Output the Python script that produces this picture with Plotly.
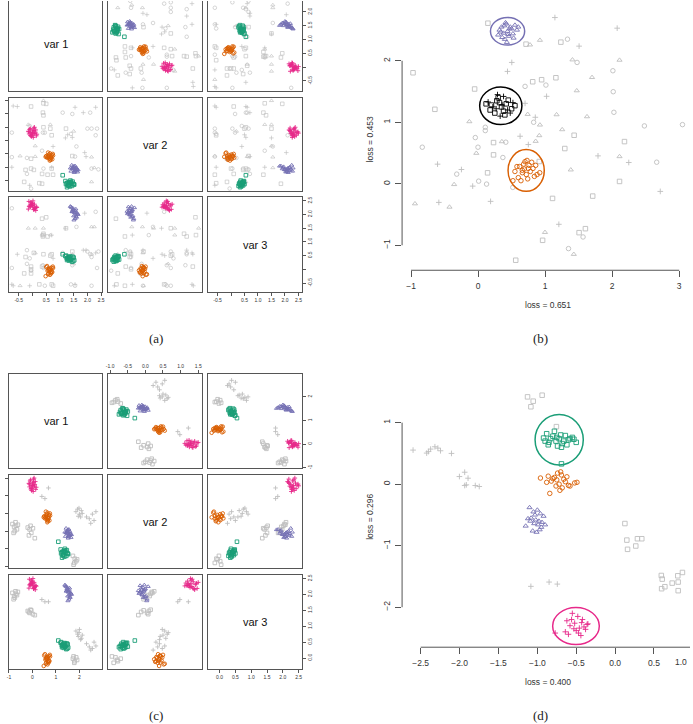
import plotly.graph_objects as go

W, H = 693, 724

# ---------------- shared coloured clusters (var 1, var 2, var 3) : panels (a) and (c)
pink_v1 = [-0.12, 0.05, -0.03, 0.10, -0.08, 0.02, 0.14, -0.15, 0.07, -0.01, 0.12, -0.06, 0.03, -0.10, 0.08, 0.00, -0.04, 0.16, -0.13, 0.05, 0.01, -0.07]
pink_v2 = [1.25, 1.38, 1.20, 1.32, 1.45, 1.28, 1.18, 1.35, 1.50, 1.22, 1.40, 1.30, 1.12, 1.42, 1.27, 1.36, 1.15, 1.24, 1.33, 1.47, 1.29, 1.19]
pink_v3 = [2.30, 2.18, 2.42, 2.25, 2.35, 2.50, 2.28, 2.20, 2.38, 2.33, 2.15, 2.45, 2.27, 2.31, 2.22, 2.40, 2.36, 2.26, 2.48, 2.19, 2.34, 2.29]

orange_v1 = [0.55, 0.68, 0.60, 0.72, 0.50, 0.64, 0.58, 0.75, 0.66, 0.53, 0.70, 0.61, 0.57, 0.69, 0.63, 0.48, 0.74, 0.59, 0.65, 0.67]
orange_v2 = [0.40, 0.35, 0.48, 0.30, 0.42, 0.52, 0.38, 0.44, 0.28, 0.36, 0.46, 0.33, 0.55, 0.41, 0.25, 0.39, 0.50, 0.43, 0.31, 0.37]
orange_v3 = [-0.05, -0.15, 0.02, -0.10, 0.08, -0.20, -0.02, 0.05, -0.12, 0.12, -0.08, 0.00, -0.18, 0.06, -0.04, -0.25, 0.10, -0.14, 0.03, -0.09]

purple_v1 = [1.45, 1.58, 1.50, 1.62, 1.40, 1.55, 1.48, 1.66, 1.52, 1.43, 1.60, 1.53, 1.47, 1.57, 1.38, 1.64, 1.51, 1.56, 1.49, 1.59, 1.54, 1.44]
purple_v2 = [-0.05, -0.12, 0.02, -0.08, -0.15, 0.05, -0.02, -0.10, -0.20, 0.08, -0.06, -0.14, 0.00, -0.09, -0.03, -0.18, 0.04, -0.11, -0.07, -0.01, -0.16, -0.04]
purple_v3 = [2.10, 2.20, 1.95, 2.05, 2.28, 1.85, 2.15, 2.00, 2.12, 2.25, 1.90, 2.08, 2.18, 1.98, 2.30, 2.03, 1.80, 2.14, 2.22, 1.93, 2.07, 2.11]

green_v1 = [1.25, 1.40, 1.32, 1.48, 1.20, 1.36, 1.28, 1.52, 1.38, 1.22, 1.44, 1.34, 1.30, 1.46, 1.26, 1.42, 1.33, 1.50, 1.29, 1.37, 1.10]
green_v2 = [-0.60, -0.55, -0.68, -0.62, -0.52, -0.72, -0.58, -0.65, -0.50, -0.63, -0.70, -0.57, -0.66, -0.54, -0.75, -0.61, -0.59, -0.64, -0.69, -0.56, -0.30]
green_v3 = [0.40, 0.35, 0.45, 0.30, 0.48, 0.38, 0.42, 0.33, 0.36, 0.50, 0.28, 0.44, 0.39, 0.46, 0.34, 0.41, 0.32, 0.43, 0.37, 0.47, 0.55]

# ---------------- panel (a) scattered grey noise
a_noise_v1 = [-0.70, -0.55, -0.05, 0.40, 0.40, 0.50, 1.10, 1.45, 1.55, 1.85, 2.10, 2.30, 0.40, 0.38, -0.75, -0.15, -0.10, 0.40, 0.65, 0.65,
              0.38, 0.45, 0.70, 1.22, 1.28, 1.40, 1.20, 1.45, 1.50, 2.00, 2.15, 2.35, 0.10, 0.35, -0.75, -0.45, -0.20, -0.05, 0.10, 0.75,
              1.45, 1.55, 1.95, 2.15, -0.75, -0.25, -0.05, 0.05, 0.40, 0.70, 0.70, 0.35, 0.55, 0.75, -0.20, 2.15, 2.25, 2.40, -0.30, -0.10,
              0.25, 0.35, -0.05, 2.15, 1.60, 1.90, 2.30]
a_noise_v2 = [2.30, 2.28, 2.28, 2.50, 2.40, 2.38, 2.05, 2.00, 2.25, 2.05, 2.05, 2.25, 1.95, 2.05, 1.30, 1.60, 1.55, 1.50, 1.60, 1.45,
              1.30, 1.30, 1.20, 1.45, 1.22, 1.25, 1.10, 1.12, 1.35, 1.45, 1.45, 1.45, 0.80, 0.62, 0.38, 0.42, 0.35, 0.32, 0.40, 0.78,
              0.42, 0.40, 0.40, 0.38, 0.00, -0.10, -0.05, -0.10, -0.05, 0.00, -0.05, -0.25, -0.28, -0.28, -0.25, -0.05, -0.02, -0.08, -0.55, -0.68,
              -0.60, -0.62, -0.80, -0.55, 0.78, 0.55, 1.20]
a_noise_v3 = [-0.60, 0.55, 0.10, 1.50, 1.25, 1.90, 0.60, 0.15, -0.55, 0.70, 0.55, 0.60, 1.30, 1.20, 2.23, 1.50, 0.40, 0.55, 1.25, 0.50,
              0.15, -0.60, -0.55, 1.50, 0.50, -0.55, 1.50, 0.55, 0.20, 0.65, -0.60, 0.05, 1.50, 1.25, 0.05, -0.60, 0.20, -0.15, 0.60, 0.40,
              0.65, -0.60, 0.70, 1.55, -0.55, 0.45, 0.00, 0.60, 0.05, 1.25, 0.55, 0.10, 1.20, -0.60, 0.70, 0.45, 1.55, 0.65, -0.15, -0.60,
              -0.55, 1.85, -0.05, 0.55, 1.55, 2.05, 2.10]
a_noise_sym = "xxstssccxx" "cxssctcsts" "ccssxcxxtc" "cctcctcstx" "scxtxssscx" "sssscctcsx" "ssctcxc"

# ---------------- panel (c) grey noise groups
c_sq_v1 = [-0.85, -0.78, -0.72, -0.66, -0.80, -0.70, -0.75, -0.62, -0.20, -0.12, -0.05, 0.02, -0.15, 0.10, -0.08, 1.72, 1.80, 1.86, 1.78, 1.90, 1.75]
c_sq_v2 = [0.20, 0.12, 0.25, 0.05, -0.05, 0.15, 0.00, 0.18, 0.10, 0.05, -0.05, 0.08, -0.12, -0.20, 0.15, -0.70, -0.78, -0.85, -0.90, -0.80, -0.95]
c_sq_v3 = [2.05, 1.95, 2.10, 1.98, 1.85, 2.02, 1.90, 2.08, 1.48, 1.42, 1.50, 1.38, 1.45, 1.35, 1.52, -0.02, -0.10, 0.02, -0.15, -0.06, 0.05]
c_cr_v1 = [0.40, 0.53, 0.68, 1.85, 1.92, 2.00, 2.08, 1.95, 2.05, 2.12, 1.98, 2.30, 2.42, 2.55, 2.62, 2.70, 2.48]
c_cr_v2 = [0.98, 0.92, 1.22, 0.55, 0.62, 0.48, 0.58, 0.42, 0.40, 0.50, 0.65, 0.40, 0.35, 0.48, 0.30, 0.55, 0.22]
c_cr_v3 = [1.84, 1.77, 1.77, 0.85, 0.75, 0.90, 0.62, 0.68, 0.58, 0.72, 0.80, 0.45, 0.35, 0.30, 0.50, 0.38, 0.25]

# ---------------- panel (b) projection
b_gray_sq_x = [0.147, 0.716, 1.235, -0.970, 0.815, 0.948, 1.161, -0.051, -0.644, 1.433, 0.231, 2.184, 1.294, 0.231, 0.913, 0.142, 2.110, 1.111, 1.710, 0.963, 1.507, 1.601, 0.562]
b_gray_sq_y = [2.611, 2.270, 2.303, 1.805, 1.659, 1.692, 1.724, 1.541, 1.211, 0.789, 0.670, 0.686, 0.573, 0.470, 0.362, 0.178, 0.038, -0.238, -0.200, -0.919, -0.795, -0.730, -1.243]
b_gray_tr_x = [0.775, 0.923, 1.408, 2.110, 1.700, 1.472, 0.740, 1.171, 1.625, -0.130, 0.923, 1.255, 0.913, 0.859, 0.355, -0.026, 2.110, 1.383, -0.357, -0.941, -0.426, 0.998, 1.428]
b_gray_tr_y = [2.259, 2.335, 2.016, 2.011, 1.730, 1.514, 1.130, 1.124, 1.092, 1.011, 0.957, 0.881, 0.784, 0.692, 0.686, 0.497, 0.443, 0.227, -0.011, -0.324, -0.378, -0.789, -1.146]
b_gray_ci_x = [1.334, 1.477, 2.011, 1.012, 0.701, 2.016, 2.026, 0.829, 0.108, 0.108, 2.481, 3.049, -0.041, 0.414, -0.832, -0.001, 0.370, 2.664, -0.318, 0.009, 0.127, 0.518, 1.566, 1.349]
b_gray_ci_y = [2.351, 1.973, 1.838, 1.605, 1.584, 1.497, 1.162, 1.000, 0.919, 0.865, 0.941, 0.962, 0.751, 0.676, 0.595, 0.595, 0.427, 0.351, 0.157, 0.043, -0.005, -0.059, -0.865, -1.054]
b_gray_cr_x = [1.146, 2.075, 1.507, 0.503, 0.439, 1.022, 0.701, 0.854, 0.627, 0.750, 1.789, 2.248, -0.604, -0.248, -0.080, 2.718, -0.585, 0.187, 1.205]
b_gray_cr_y = [2.703, 2.530, 2.238, 1.973, 1.827, 1.422, 1.308, 1.081, 0.773, 0.638, 0.454, 0.346, 0.319, 0.232, -0.038, -0.124, -0.303, -0.286, -0.659]
b_purple_x = [0.35, 0.42, 0.50, 0.38, 0.46, 0.55, 0.32, 0.44, 0.40, 0.52, 0.36, 0.48, 0.58, 0.30, 0.43, 0.47, 0.39, 0.53, 0.34, 0.45, 0.41, 0.60]
b_purple_y = [2.55, 2.60, 2.52, 2.45, 2.40, 2.58, 2.50, 2.48, 2.35, 2.44, 2.38, 2.55, 2.50, 2.42, 2.30, 2.52, 2.57, 2.37, 2.47, 2.43, 2.62, 2.55]
b_black_sq_x = [0.12, 0.20, 0.28, 0.35, 0.42, 0.50, 0.55, 0.18, 0.25, 0.32, 0.38, 0.45, 0.30, 0.40]
b_black_sq_y = [1.30, 1.28, 1.35, 1.25, 1.30, 1.22, 1.27, 1.20, 1.15, 1.32, 1.18, 1.36, 1.40, 1.12]
b_black_cr_x = [0.22, 0.48, 0.15, 0.36, 0.27, 0.44, 0.33, 0.52, 0.38, 0.29]
b_black_cr_y = [1.25, 1.15, 1.33, 1.28, 1.22, 1.20, 1.10, 1.32, 1.42, 1.45]
b_orange_x = [0.55, 0.62, 0.68, 0.75, 0.80, 0.86, 0.92, 0.60, 0.66, 0.72, 0.78, 0.84, 0.70, 0.64, 0.74, 0.58, 0.82, 0.69, 0.76, 0.52, 0.88, 0.66, 0.73]
b_orange_y = [0.20, 0.28, 0.32, 0.25, 0.35, 0.30, 0.18, 0.10, 0.22, 0.15, 0.20, 0.12, 0.36, 0.05, 0.08, 0.28, 0.25, 0.24, 0.30, 0.05, 0.15, 0.18, 0.38]

# ---------------- panel (d) projection
d_gray_sq_x = [-1.126, -1.053, -1.083, -0.938, -0.755, 0.126, 0.151, 0.160, 0.266, 0.287, 0.343,
               0.594, 0.606, 0.598, 0.640, 0.734, 0.811, 0.806, 0.866, 0.811]
d_gray_sq_y = [1.419, 1.349, 1.258, 1.446, 0.935, -0.640, -0.909, -1.059, -1.005, -0.887, -0.887,
               -1.484, -1.543, -1.699, -1.667, -1.608, -1.591, -1.489, -1.435, -1.731]
d_gray_cr_x = [-2.598, -2.423, -2.372, -2.317, -2.279, -2.245, -2.104, -2.400, -2.002, -1.934, -1.891, -1.934, -1.913, -1.798, -1.747,
               -1.083, -0.849, -0.743]
d_gray_cr_y = [0.554, 0.505, 0.570, 0.608, 0.586, 0.543, 0.500, 0.530, 0.124, 0.194, 0.097, -0.022, -0.011, -0.022, -0.038,
               -1.661, -1.591, -1.624]
d_green_x = [-0.92, -0.88, -0.85, -0.80, -0.76, -0.72, -0.68, -0.64, -0.60, -0.55, -0.50, -0.86, -0.78, -0.74, -0.70, -0.66, -0.62, -0.58, -0.83, -0.69, -0.53, -0.90, -0.75, -0.69]
d_green_y = [0.75, 0.82, 0.68, 0.78, 0.70, 0.74, 0.66, 0.79, 0.72, 0.76, 0.68, 0.64, 0.86, 0.62, 0.80, 0.70, 0.64, 0.74, 0.74, 0.60, 0.73, 0.70, 0.76, 0.33]
d_orange_x = [-0.96, -0.86, -0.82, -0.78, -0.74, -0.70, -0.66, -0.62, -0.58, -0.52, -0.49, -0.84, -0.76, -0.72, -0.68, -0.64, -0.80, -0.71, -0.75, -0.88, -0.60, -0.69]
d_orange_y = [0.10, 0.13, 0.05, 0.11, 0.18, 0.20, 0.08, 0.12, -0.03, 0.02, 0.03, -0.15, -0.03, 0.00, -0.06, 0.04, 0.09, -0.10, 0.07, 0.03, -0.02, 0.15]
d_purple_x = [-1.10, -1.05, -1.00, -0.96, -0.92, -1.08, -1.02, -0.98, -0.94, -1.15, -1.12, -1.04, -0.99, -0.95, -0.90, -1.06, -1.01, -0.97, -1.09, -1.03]
d_purple_y = [-0.38, -0.45, -0.42, -0.48, -0.52, -0.55, -0.58, -0.60, -0.62, -0.68, -0.56, -0.64, -0.66, -0.70, -0.66, -0.76, -0.78, -0.74, -0.60, -0.50]
d_pink_x = [-0.62, -0.55, -0.48, -0.42, -0.36, -0.58, -0.52, -0.46, -0.40, -0.64, -0.60, -0.50, -0.44, -0.38, -0.56, -0.47, -0.77, -0.35, -0.53, -0.43]
d_pink_y = [-2.22, -2.10, -2.15, -2.20, -2.28, -2.30, -2.26, -2.34, -2.32, -2.40, -2.44, -2.38, -2.46, -2.36, -2.20, -2.42, -2.42, -2.27, -2.35, -2.25]

# ---------------- tick labels / text
var_labels = ["var 1", "var 2", "var 3"]
a_ticks = [-0.5, 0.0, 0.5, 1.0, 1.5, 2.0, 2.5]
a_ticktext = ["-0.5", "", "0.5", "1.0", "1.5", "2.0", "2.5"]
c_ticks = [[-1, 0, 1, 2], [-1.0, -0.5, 0.0, 0.5, 1.0, 1.5], [0.0, 0.5, 1.0, 1.5, 2.0, 2.5]]
c_ticktext = [["-1", "0", "1", "2"], ["-1.0", "-0.5", "0.0", "0.5", "1.0", "1.5"], ["0.0", "0.5", "1.0", "1.5", "2.0", "2.5"]]
b_xticks = [-1, 0, 1, 2, 3]
b_xticktext = ["\u22121", "0", "1", "2", "3"]
b_yticks = [-1, 0, 1, 2]
b_yticktext = ["\u22121", "0", "1", "2"]
d_xticks = [-2.5, -2.0, -1.5, -1.0, -0.5, 0.0, 0.5, 1.0]
d_xticktext = ["\u22122.5", "\u22122.0", "\u22121.5", "\u22121.0", "\u22120.5", "0.0", "0.5", "1.0"]
d_yticks = [-2, -1, 0, 1]
d_yticktext = ["\u22122", "\u22121", "0", "1"]
b_xlabel, b_ylabel = "loss = 0.651", "loss = 0.453"
d_xlabel, d_ylabel = "loss = 0.400", "loss = 0.296"
panel_tags = ["(a)", "(b)", "(c)", "(d)"]

# ---------------- styles
GREEN, ORANGE, PURPLE, PINK = "#1B9E77", "#D95F02", "#7570B3", "#E7298A"
GRAY, BOX, TXT = "#BEBEBE", "#555555", "#333333"
SYM = {"s": "square-open", "t": "triangle-up-open", "c": "circle-open", "x": "cross-thin-open"}
SANS = "Liberation Sans, Arial, sans-serif"
SERIF = "Liberation Serif, DejaVu Serif, serif"

fig = go.Figure()
layout = {}
annotations = []
shapes = []
n_axes = [0]


def text(t, px, py, size, family=SANS, color=TXT, angle=0, xanchor="center"):
    annotations.append(dict(text=t, x=px / W, y=1 - py / H, xref="paper", yref="paper", showarrow=False,
                            xanchor=xanchor, yanchor="middle", textangle=angle,
                            font=dict(size=size, color=color, family=family)))


def clip(p0, p1, r0, r1, lo, hi):
    s = (r1 - r0) / (p1 - p0)
    q0, q1 = max(p0, lo), min(p1, hi)
    return q0, q1, r0 + (q0 - p0) * s, r0 + (q1 - p0) * s


def add_axes(box, xr, yr, xkw=None, ykw=None):
    n_axes[0] += 1
    k = n_axes[0]
    (px0, px1), (py0, py1) = box
    qx0, qx1, rx0, rx1 = clip(px0, px1, xr[0], xr[1], 0, W)
    qy0, qy1, ryt, ryb = clip(py0, py1, yr[1], yr[0], 0, H)
    sx = "" if k == 1 else str(k)
    base = dict(showgrid=False, zeroline=False, showline=False, ticks="", showticklabels=False, fixedrange=True)
    xa = dict(base, domain=[qx0 / W, qx1 / W], range=[rx0, rx1], anchor="y" + sx)
    ya = dict(base, domain=[1 - qy1 / H, 1 - qy0 / H], range=[ryb, ryt], anchor="x" + sx)
    xa.update(xkw or {})
    ya.update(ykw or {})
    layout["xaxis" + sx] = xa
    layout["yaxis" + sx] = ya
    # an empty trace makes sure every subplot (even an empty one) is drawn
    fig.add_trace(go.Scatter(x=[None], y=[None], xaxis="x" + sx, yaxis="y" + sx, mode="markers", hoverinfo="skip"))
    return "x" + sx, "y" + sx, (qx0, qx1, qy0, qy1)


def pts(xref, yref, x, y, symbol, color, size):
    if isinstance(symbol, list):
        sizes = [size * 0.9 if s.startswith("cross") else size for s in symbol]
    else:
        sizes = size * 0.9 if symbol.startswith("cross") else size
    fig.add_trace(go.Scatter(x=x, y=y, xaxis=xref, yaxis=yref, mode="markers", hoverinfo="skip",
                             marker=dict(symbol=symbol, size=sizes, color=color,
                                         line=dict(width=0.9, color=color))))


def matrix(cols_px, rows_px, ranges, ticks, ticktext, layers):
    small = dict(size=5, color=TXT, family=SANS)
    for i in range(3):
        for j in range(3):
            box = (cols_px[j], rows_px[i])
            frame = dict(showline=True, linecolor=BOX, linewidth=1, mirror=True)
            tk = dict(ticks="outside", ticklen=3, tickwidth=1, tickcolor=BOX, tickfont=small)
            xkw, ykw = dict(frame), dict(frame)
            top_cut = rows_px[i][0] < 0
            if top_cut:
                xkw["mirror"] = False
            if i == 2 and j % 2 == 0:
                xkw.update(tk, tickvals=ticks[j], ticktext=ticktext[j], showticklabels=True)
            if i == 0 and j == 1 and not top_cut:
                xkw.update(tk, side="top", tickvals=ticks[j], ticktext=ticktext[j], showticklabels=True)
            if j == 0 and i == 1:
                ykw.update(tk, tickvals=ticks[i], ticktext=ticktext[i], showticklabels=False)
            if j == 2 and i % 2 == 0:
                ykw.update(tk, side="right", tickangle=-90, tickvals=ticks[i], ticktext=ticktext[i], showticklabels=True)
            xr_, yr_, q = add_axes(box, ranges[j], ranges[i], xkw, ykw)
            if i == j:
                text(var_labels[i], (cols_px[j][0] + cols_px[j][1]) / 2, (rows_px[i][0] + rows_px[i][1]) / 2,
                     11, color="#111")
                continue
            for (vals, sym, color) in layers:
                pts(xr_, yr_, vals[j], vals[i], sym, color, 3.6)


COLS = [(7, 101), (107, 201), (208, 302)]
clusters = [
    ((green_v1, green_v2, green_v3), SYM["s"], GREEN),
    ((purple_v1, purple_v2, purple_v3), SYM["t"], PURPLE),
    ((orange_v1, orange_v2, orange_v3), SYM["c"], ORANGE),
    ((pink_v1, pink_v2, pink_v3), SYM["x"], PINK),
]

# panel (a)
a_noise_symbols = [SYM[s] for s in a_noise_sym]
matrix(COLS, [(-4, 90), (97, 191), (197, 292)],
       [(-0.855, 2.54), (-0.91, 2.61), (-0.835, 2.625)],
       [a_ticks] * 3, [a_ticktext] * 3,
       [((a_noise_v1, a_noise_v2, a_noise_v3), a_noise_symbols, GRAY)] + clusters)

# panel (c)
matrix(COLS, [(374, 468), (475, 569), (576, 670)],
       [(-1.0, 2.97), (-1.055, 1.595), (-0.35, 2.6)],
       c_ticks, c_ticktext,
       [((c_sq_v1, c_sq_v2, c_sq_v3), SYM["s"], GRAY), ((c_cr_v1, c_cr_v2, c_cr_v3), SYM["x"], GRAY)] + clusters)


def projection(box, xr, yr, xticks, xtt, yticks, ytt, xlabel, ylabel, layers, ellipses):
    tickfont = dict(size=8.5, color=TXT, family=SANS)
    tk = dict(ticks="outside", ticklen=6, tickwidth=1, tickcolor=BOX, tickfont=tickfont, showticklabels=True)
    xkw = dict(tk, tickvals=xticks, ticktext=xtt, ticklabelstandoff=2)
    ykw = dict(tk, tickvals=yticks, ticktext=ytt, tickangle=-90, ticklabelstandoff=2)
    xa, ya, q = add_axes(box, xr, yr, xkw, ykw)
    qx0, qx1, qy0, qy1 = q
    shapes.append(dict(type="line", xref=xa, yref="paper", x0=xticks[0], x1=xticks[-1],
                       y0=1 - qy1 / H, y1=1 - qy1 / H, line=dict(color=BOX, width=1)))
    shapes.append(dict(type="line", xref="paper", yref=ya, x0=qx0 / W, x1=qx0 / W,
                       y0=yticks[0], y1=yticks[-1], line=dict(color=BOX, width=1)))
    for (x, y, sym, color) in layers:
        pts(xa, ya, x, y, sym, color, 4.5)
    for (x, y, rx, ry, color) in ellipses:
        cx, cy = sum(x) / len(x), sum(y) / len(y)
        shapes.append(dict(type="circle", xref=xa, yref=ya, x0=cx - rx, x1=cx + rx, y0=cy - ry, y1=cy + ry,
                           line=dict(color=color, width=1.5)))
    mx = (box[0][0] + box[0][1]) / 2
    my = (box[1][0] + box[1][1]) / 2
    text(xlabel, mx, box[1][1] + 35, 8.5)
    text(ylabel, box[0][0] - 32, my, 8.5, angle=-90)
    return xa, ya


# panel (b)
projection(((403, 696.3), (6.9, 270)), (-1.133, 3.21), (-1.406, 2.86),
           b_xticks, b_xticktext, b_yticks, b_yticktext, b_xlabel, b_ylabel,
           [(b_gray_sq_x, b_gray_sq_y, SYM["s"], GRAY), (b_gray_tr_x, b_gray_tr_y, SYM["t"], GRAY),
            (b_gray_ci_x, b_gray_ci_y, SYM["c"], GRAY), (b_gray_cr_x, b_gray_cr_y, SYM["x"], GRAY),
            (b_purple_x, b_purple_y, SYM["t"], PURPLE), (b_orange_x, b_orange_y, SYM["c"], ORANGE),
            (b_black_sq_x, b_black_sq_y, SYM["s"], "#000000"), (b_black_cr_x, b_black_cr_y, SYM["x"], "#000000")],
           [(b_purple_x, b_purple_y, 0.255, 0.224, PURPLE),
            (b_black_sq_x + b_black_cr_x, b_black_sq_y + b_black_cr_y, 0.315, 0.305, "#000000"),
            (b_orange_x, b_orange_y, 0.27, 0.34, ORANGE)])

# panel (d)
projection(((403, 696.6), (385.8, 648)), (-2.739, 1.009), (-2.65, 1.60),
           d_xticks, d_xticktext, d_yticks, d_yticktext, d_xlabel, d_ylabel,
           [(d_gray_sq_x, d_gray_sq_y, SYM["s"], GRAY), (d_gray_cr_x, d_gray_cr_y, SYM["x"], GRAY),
            (d_purple_x, d_purple_y, SYM["t"], PURPLE), (d_orange_x, d_orange_y, SYM["c"], ORANGE),
            (d_green_x, d_green_y, SYM["s"], GREEN), (d_pink_x, d_pink_y, SYM["x"], PINK)],
           [(d_green_x[:-1], d_green_y[:-1], 0.31, 0.41, GREEN), (d_pink_x, d_pink_y, 0.30, 0.30, PINK)])
# last x tick label of (d) would sit just past the page edge: keep it fully on the page
text(d_xticktext[-1], 692, 663, 8.5, xanchor="right")

# panel tags
for tag, (tx, ty) in zip(panel_tags, [(155, 338), (542, 338), (155, 716), (542, 716)]):
    text(tag, tx, ty, 13, family=SERIF, color="#222")

fig.update_layout(**layout)
fig.update_layout(width=W, height=H, margin=dict(l=0, r=0, t=0, b=0), autosize=False,
                  paper_bgcolor="white", plot_bgcolor="white", showlegend=False,
                  annotations=annotations, shapes=shapes)
fig.write_html("out.html", config={"displayModeBar": False})
